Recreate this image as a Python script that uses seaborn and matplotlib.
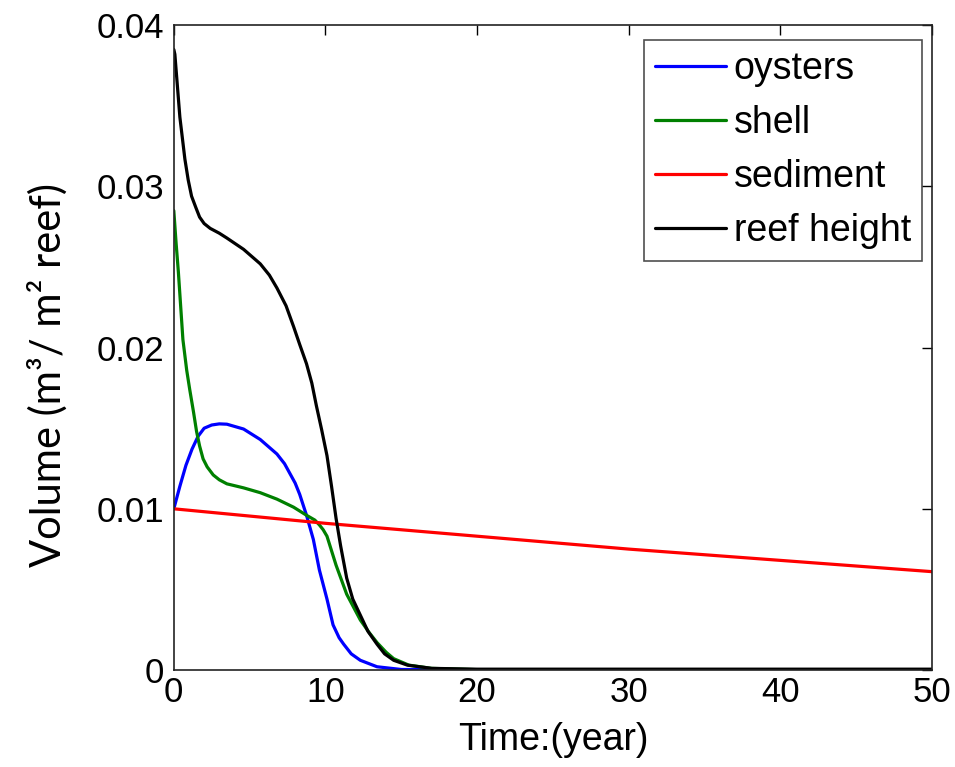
import numpy as np
import pandas as pd
import matplotlib
matplotlib.use("Agg")
import matplotlib.pyplot as plt
import seaborn as sns

# ---- data ----
oyster_t = [0, 0.4, 0.8, 1.2, 1.6, 2.0, 2.5, 3.0, 3.5, 4.6, 5.7, 6.8, 7.3, 7.65, 8.0, 8.3, 8.75, 9.2, 9.6, 10.1, 10.5, 10.9, 11.2, 11.7, 12.3, 13.4, 15, 20, 30, 40, 50]
oyster_v = [0.0100, 0.0114, 0.0127, 0.0137, 0.0145, 0.0150, 0.0152, 0.01527, 0.01525, 0.01495, 0.0143, 0.0134, 0.0128, 0.0122, 0.0116, 0.0109, 0.0096, 0.0081, 0.0062, 0.0044, 0.0028, 0.0020, 0.0016, 0.0010, 0.0006, 0.0002, 0.00003, 0, 0, 0, 0]

shell_t = [0, 0.15, 0.3, 0.6, 0.85, 1.05, 1.3, 1.5, 1.7, 1.93, 2.2, 2.6, 3.0, 3.5, 4.6, 5.7, 6.8, 7.9, 8.75, 9.3, 9.6, 9.85, 10.1, 10.7, 11.4, 12.3, 12.9, 13.4, 14.0, 14.5, 15.5, 17, 20, 30, 40, 50]
shell_v = [0.0285, 0.0265, 0.0247, 0.0205, 0.0186, 0.0174, 0.0160, 0.0148, 0.0139, 0.0131, 0.0126, 0.0121, 0.0118, 0.01155, 0.0113, 0.0110, 0.0106, 0.0101, 0.0096, 0.0093, 0.0090, 0.0087, 0.0083, 0.0065, 0.0047, 0.0031, 0.0023, 0.0017, 0.0011, 0.0007, 0.0003, 0.0001, 0.00002, 0, 0, 0]

sediment_t = [0, 10, 20, 30, 40, 50]
sediment_v = [0.0100, 0.0091, 0.0083, 0.0075, 0.0068, 0.0061]

reef_t = [0, 0.07, 0.4, 0.73, 0.95, 1.17, 1.45, 1.7, 2.0, 2.4, 3.0, 3.5, 4.6, 5.7, 6.3, 6.8, 7.4, 7.9, 8.3, 8.75, 9.1, 9.4, 9.75, 10.1, 10.4, 10.7, 11.0, 11.4, 11.8, 12.3, 12.8, 13.4, 13.9, 14.5, 15.4, 17, 20, 30, 40, 50]
reef_v = [0.0385, 0.0382, 0.0343, 0.0317, 0.0304, 0.0294, 0.0287, 0.0281, 0.0277, 0.0274, 0.0271, 0.0268, 0.0261, 0.0252, 0.0245, 0.0237, 0.0226, 0.0213, 0.0202, 0.0190, 0.0178, 0.0164, 0.0149, 0.0133, 0.0114, 0.0094, 0.0077, 0.0057, 0.0044, 0.0034, 0.0024, 0.0016, 0.0010, 0.0006, 0.0003, 0.0001, 0.00005, 0.00005, 0.00005, 0.00005]

series_names = ["oysters", "shell", "sediment", "reef height"]
series_colors = ["#0000ff", "#008000", "#ff0000", "#000000"]

x_ticks = [0, 10, 20, 30, 40, 50]
y_ticks = [0, 0.01, 0.02, 0.03, 0.04]
y_tick_labels = ["0", "0.01", "0.02", "0.03", "0.04"]

# ---- build long table ----
frames = []
for name, t, v in zip(series_names,
                      [oyster_t, shell_t, sediment_t, reef_t],
                      [oyster_v, shell_v, sediment_v, reef_v]):
    frames.append(pd.DataFrame({"t": t, "v": v, "series": name}))
df = pd.concat(frames, ignore_index=True)

sns.set_style("white")
plt.rcParams["font.family"] = ["Liberation Sans", "DejaVu Sans"]
plt.rcParams["text.color"] = "black"
plt.rcParams["axes.labelcolor"] = "black"

fig = plt.figure(figsize=(9.55, 7.67), dpi=100)
ax = fig.add_axes([0.182, 0.1265, 0.794, 0.8405])

sns.lineplot(data=df, x="t", y="v", hue="series", hue_order=series_names,
             palette=dict(zip(series_names, series_colors)),
             estimator=None, sort=False, linewidth=2.3, ax=ax)

ax.set_xlim(0, 50)
ax.set_ylim(0, 0.04)
ax.set_xticks(x_ticks)
ax.set_xticklabels([str(x) for x in x_ticks])
ax.set_yticks(y_ticks)
ax.set_yticklabels(y_tick_labels)
ax.tick_params(direction="in", length=7, width=1, top=True, right=True,
               labelsize=25, colors="black", pad=7)
ax.tick_params(axis="x", pad=4)
for sp in ax.spines.values():
    sp.set_color("#222222")
    sp.set_linewidth(1.2)

ax.set_xlabel("Time:(year)", fontsize=27, labelpad=10, color="black")
ax.set_ylabel("Volume (m³/ m² reef)", fontsize=30, color="black",
              family=["Lato", "DejaVu Sans"])
ax.yaxis.set_label_coords(-0.14, 0.457)

leg = ax.legend(loc="upper right", fontsize=27, frameon=True, fancybox=False,
                edgecolor="#222222", handlelength=1.9, handletextpad=0.2,
                borderpad=0.3, labelspacing=0.48, borderaxespad=0,
                bbox_to_anchor=(0.987, 0.977))
leg.get_frame().set_linewidth(1.2)
for line in leg.get_lines():
    line.set_linewidth(2.3)
for txt in leg.get_texts():
    txt.set_color("black")

fig.savefig("out.png", dpi=100)
